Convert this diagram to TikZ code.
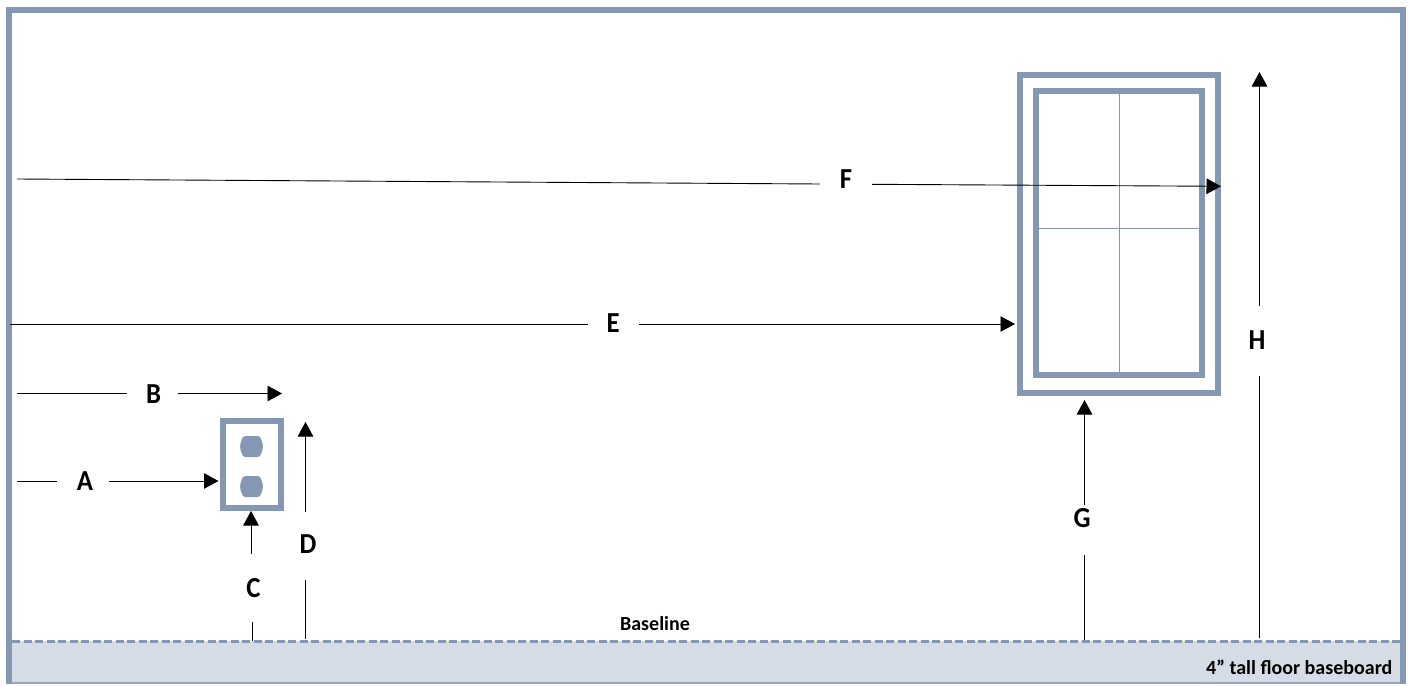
\documentclass[tikz,border=0pt]{standalone}
\usepackage{fontspec}
\setmainfont{Carlito}
\usetikzlibrary{arrows.meta}
\definecolor{steel}{HTML}{8498B3}
\definecolor{base}{HTML}{D6DCE5}
\tikzset{
  x=1pt,y=-1pt,
  frameline/.style={draw=steel,line width=6pt,fill=white,line join=miter},
  pane/.style={draw=steel,line width=0.9pt},
  dim/.style={draw=black,line width=0.9pt},
  dimarrow/.style={dim,-{Triangle[length=14.5pt,width=15.5pt]}},
  letter/.style={font=\bfseries\fontsize{29}{29}\selectfont,text=black,inner sep=0pt,xscale=0.92},
  note/.style={font=\bfseries\fontsize{20}{20}\selectfont,text=black,inner sep=0pt},
  socket/.style={fill=steel,draw=none},
}
\begin{document}
\begin{tikzpicture}
\useasboundingbox (0,0) rectangle (1410,685);
% baseboard and wall
\fill[base] (10,641) rectangle (1401,682);
\draw[draw=steel,line width=2.6pt,dash pattern=on 8pt off 3.5pt] (12,641.5) -- (1400,641.5);
\draw[steel!85,line width=2pt] (9,683) -- (1403,683);
\draw[steel,line width=6pt] (9,684) -- (9,10.5) -- (1403,10.5) -- (1403,684);
% outlet
\draw[frameline] (222.8,421) rectangle (280.5,508.3);
\foreach \t in {436,476}{
  \fill[socket] (246,\t) -- (257,\t)
    .. controls (259.5,\t) and (260.5,\t+1) .. (261,\t+3)
    .. controls (263.5,\t+8) and (263.5,\t+13) .. (261,\t+18)
    .. controls (260.5,\t+20) and (259.5,\t+21) .. (257,\t+21)
    -- (246,\t+21)
    .. controls (243.5,\t+21) and (242.5,\t+20) .. (242,\t+18)
    .. controls (239.5,\t+13) and (239.5,\t+8) .. (242,\t+3)
    .. controls (242.5,\t+1) and (243.5,\t) .. (246,\t) -- cycle;
}
\coordinate (outletL) at (218.5,481);
\coordinate (outletB) at (251,511);
% window
\draw[frameline] (1020,75) rectangle (1217.5,393);
\draw[frameline] (1036,91) rectangle (1201.5,375);
\draw[pane] (1119.5,93) -- (1119.5,373);
\draw[pane] (1038,228.3) -- (1199,228.3);
% labels
\node[letter] (A) at (85,481) {A};
\node[letter] (B) at (153.5,394) {B};
\node[letter] (C) at (253.5,588) {C};
\node[letter] (D) at (308,544) {D};
\node[letter] (E) at (613,323.5) {E};
\node[letter] (F) at (846,179) {F};
\node[letter] (G) at (1082,518) {G};
\node[letter] (H) at (1257,340) {H};
\node[note] (baseline) at (655,624) {Baseline};
\node[note,anchor=east] (tall) at (1392.5,667) {4” tall floor baseboard};
% free ends
\coordinate (a0) at (17,481); \coordinate (a1) at (57,481); \coordinate (a2) at (109,481);
\coordinate (b0) at (17,393.5); \coordinate (b1) at (127,393.5); \coordinate (b2) at (178,393.5); \coordinate (b3) at (282,393.5);
\coordinate (c0) at (252,641); \coordinate (c1) at (252,622); \coordinate (c2) at (251,554);
\coordinate (d0) at (305.5,639); \coordinate (d1) at (305.5,580); \coordinate (d2) at (305.5,512); \coordinate (d3) at (305.5,422);
\coordinate (e0) at (10,324); \coordinate (e1) at (588,324); \coordinate (e2) at (639,324); \coordinate (e3) at (1015,324);
\coordinate (f0) at (17,179); \coordinate (f1) at (820,184); \coordinate (f2) at (872,184.3); \coordinate (f3) at (1221,186.3);
\coordinate (g0) at (1084.5,640); \coordinate (g1) at (1084.5,555); \coordinate (g2) at (1084.5,505); \coordinate (g3) at (1084.5,400);
\coordinate (h0) at (1259.5,638); \coordinate (h1) at (1259.5,376); \coordinate (h2) at (1259.5,306); \coordinate (h3) at (1259.5,72);
% connectors
\draw[dim] (a0) -- (a1); \draw[dimarrow] (a2) -- (outletL);
\draw[dim] (b0) -- (b1); \draw[dimarrow] (b2) -- (b3);
\draw[dim] (c0) -- (c1); \draw[dimarrow] (c2) -- (outletB);
\draw[dim] (d0) -- (d1); \draw[dimarrow] (d2) -- (d3);
\draw[dim] (e0) -- (e1); \draw[dimarrow] (e2) -- (e3);
\draw[dim] (f0) -- (f1); \draw[dimarrow] (f2) -- (f3);
\draw[dim] (g0) -- (g1); \draw[dimarrow] (g2) -- (g3);
\draw[dim] (h0) -- (h1); \draw[dimarrow] (h2) -- (h3);
\end{tikzpicture}
\end{document}
